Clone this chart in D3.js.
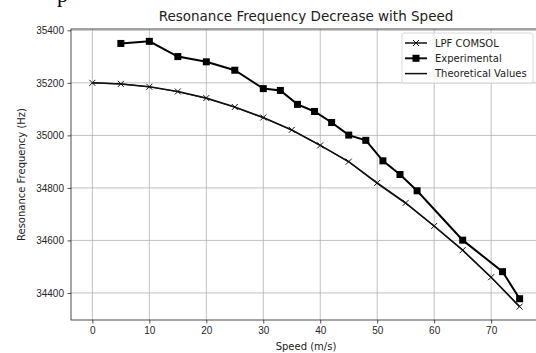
<!DOCTYPE html>
<html>
<head>
<meta charset="utf-8">
<script src="https://cdn.jsdelivr.net/npm/d3@7"></script>
<style>
  body { margin: 0; background: #fff; }
  svg { display: block; font-family: "DejaVu Sans", sans-serif; }
  .tick text { fill: #262626; font-size: 10px; }
</style>
</head>
<body>
<div id="chart"></div>
<script>
// speeds (m/s) and frequencies (Hz)
const comsolSpeed = [0, 5, 10, 15, 20, 25, 30, 35, 40, 45, 50, 55, 60, 65, 70, 75];
const comsolFreq = [35200, 35196, 35185, 35167, 35142, 35108, 35068, 35021, 34962, 34900, 34819, 34743, 34655, 34563, 34460, 34348];

const expSpeed = [5, 10, 15, 20, 25, 30, 33, 36, 39, 42, 45, 48, 51, 54, 57, 65, 72, 75];
const expFreq = [35350, 35358, 35300, 35280, 35248, 35178, 35171, 35118, 35091, 35049, 35001, 34981, 34903, 34851, 34789, 34601, 34481, 34378];

const theoSpeed = [0, 5, 10, 15, 20, 25, 30, 35, 40, 45, 50, 55, 60, 65, 70, 75];
const theoFreq = [35200, 35196, 35185, 35166, 35141, 35107, 35067, 35020, 34962, 34899, 34817, 34741, 34654, 34562, 34459, 34347];

const xTicks = [0, 10, 20, 30, 40, 50, 60, 70];
const yTicks = [34400, 34600, 34800, 35000, 35200, 35400];

const width = 536, height = 353;
const margin = { top: 29, left: 71, bottom: 33 };
const plotRight = 541;

const svg = d3.select('#chart').append('svg')
  .attr('width', width)
  .attr('height', height);

// leftover glyph from the page above the figure
svg.append('text')
  .attr('x', 57)
  .attr('y', 2)
  .attr('font-family', 'Liberation Serif')
  .attr('font-size', 22)
  .attr('fill', '#000')
  .text('p');

const x = d3.scaleLinear().domain([-3.75, 78.75]).range([margin.left, plotRight]);
const y = d3.scaleLinear().domain([34297, 35405]).range([height - margin.bottom, margin.top]);

// grid
const grid = svg.append('g');
grid.selectAll('line.gx').data(xTicks).enter().append('line')
  .attr('x1', d => x(d)).attr('x2', d => x(d))
  .attr('y1', margin.top).attr('y2', height - margin.bottom)
  .attr('stroke', '#b0b0b0').attr('stroke-width', 0.8);
grid.selectAll('line.gy').data(yTicks).enter().append('line')
  .attr('x1', margin.left).attr('x2', plotRight)
  .attr('y1', d => y(d)).attr('y2', d => y(d))
  .attr('stroke', '#b0b0b0').attr('stroke-width', 0.8);

// axes
const xAxis = svg.append('g')
  .attr('transform', `translate(0,${height - margin.bottom})`)
  .call(d3.axisBottom(x).tickValues(xTicks).tickSize(3.5).tickPadding(3.5));
const yAxis = svg.append('g')
  .attr('transform', `translate(${margin.left},0)`)
  .call(d3.axisLeft(y).tickValues(yTicks).tickFormat(d3.format('d')).tickSize(3.5).tickPadding(3.5));
[xAxis, yAxis].forEach(a => {
  a.select('.domain').remove();
  a.selectAll('.tick line').attr('stroke', '#222').attr('stroke-width', 0.8);
});

// frame
svg.append('rect')
  .attr('x', margin.left).attr('y', margin.top)
  .attr('width', plotRight - margin.left)
  .attr('height', height - margin.bottom - margin.top)
  .attr('fill', 'none').attr('stroke', '#222').attr('stroke-width', 0.8);

const line = d3.line().x(d => x(d[0])).y(d => y(d[1]));
const plot = svg.append('g');

const theo = d3.zip(theoSpeed, theoFreq);
const comsol = d3.zip(comsolSpeed, comsolFreq);
const exp = d3.zip(expSpeed, expFreq);

plot.append('path').datum(theo).attr('d', line)
  .attr('fill', 'none').attr('stroke', '#222').attr('stroke-width', 1.2);

plot.append('path').datum(comsol).attr('d', line)
  .attr('fill', 'none').attr('stroke', '#111').attr('stroke-width', 1.5);

const xMark = 3;
plot.selectAll('path.xm').data(comsol).enter().append('path')
  .attr('d', d => `M${x(d[0]) - xMark},${y(d[1]) - xMark}L${x(d[0]) + xMark},${y(d[1]) + xMark}M${x(d[0]) - xMark},${y(d[1]) + xMark}L${x(d[0]) + xMark},${y(d[1]) - xMark}`)
  .attr('stroke', '#111').attr('stroke-width', 1);

plot.append('path').datum(exp).attr('d', line)
  .attr('fill', 'none').attr('stroke', '#000').attr('stroke-width', 2);

const sq = 7;
plot.selectAll('rect.sq').data(exp).enter().append('rect')
  .attr('x', d => x(d[0]) - sq / 2).attr('y', d => y(d[1]) - sq / 2)
  .attr('width', sq).attr('height', sq)
  .attr('fill', '#000');

// title and labels
svg.append('text')
  .attr('x', (margin.left + plotRight) / 2).attr('y', 21)
  .attr('text-anchor', 'middle')
  .attr('font-size', 13.5).attr('fill', '#222')
  .text('Resonance Frequency Decrease with Speed');

svg.append('text')
  .attr('x', (margin.left + plotRight) / 2).attr('y', 350)
  .attr('text-anchor', 'middle')
  .attr('font-size', 10).attr('fill', '#222')
  .text('Speed (m/s)');

svg.append('text')
  .attr('transform', `translate(25,${(margin.top + height - margin.bottom) / 2}) rotate(-90)`)
  .attr('text-anchor', 'middle')
  .attr('font-size', 10).attr('fill', '#222')
  .text('Resonance Frequency (Hz)');

// legend
const legend = svg.append('g').attr('transform', 'translate(402,33)');
legend.append('rect')
  .attr('width', 131).attr('height', 50).attr('rx', 2)
  .attr('fill', 'rgba(255,255,255,0.8)').attr('stroke', '#d0d0d0').attr('stroke-width', 0.8);

const items = [
  { name: 'LPF COMSOL', kind: 'x' },
  { name: 'Experimental', kind: 'sq' },
  { name: 'Theoretical Values', kind: 'line' }
];
items.forEach((it, i) => {
  const cy = 10 + i * 15.3;
  const g = legend.append('g').attr('transform', `translate(0,${cy})`);
  g.append('line').attr('x1', 3).attr('x2', 25).attr('y1', 0).attr('y2', 0)
    .attr('stroke', '#111').attr('stroke-width', it.kind === 'sq' ? 2 : 1.5);
  if (it.kind === 'x') {
    g.append('path').attr('d', `M11,-3L17,3M11,3L17,-3`).attr('stroke', '#111').attr('stroke-width', 1);
  } else if (it.kind === 'sq') {
    g.append('rect').attr('x', 14 - sq / 2).attr('y', -sq / 2).attr('width', sq).attr('height', sq).attr('fill', '#000');
  }
  g.append('text').attr('x', 33).attr('y', 3.6)
    .attr('font-size', 10).attr('fill', '#222')
    .text(it.name);
});
</script>
</body>
</html>
